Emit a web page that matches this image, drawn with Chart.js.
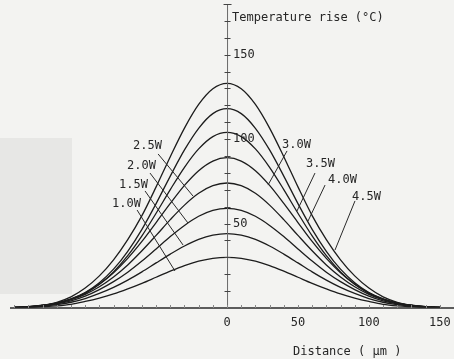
<!DOCTYPE html>
<html><head><meta charset="utf-8">
<script src="https://cdn.jsdelivr.net/npm/chart.js@4.4.1/dist/chart.umd.min.js"></script>
<style>html,body{margin:0;padding:0;background:#f3f3f1}#wrap{width:454px;height:359px;position:relative}</style>
</head><body><div id="wrap"><canvas id="c" width="454" height="359"></canvas></div>
<script>
// Distance (µm)
const distances = [-150,-140,-130,-120,-110,-100,-90,-80,-70,-60,-50,-40,-30,-20,-10,0,10,20,30,40,50,60,70,80,90,100,110,120,130,140,150];
// Temperature rise (°C) per laser power
const p10 = [0.2,0.4,0.8,1.3,2.2,3.9,5.9,8.3,11.3,14.6,18.2,21.8,25.1,27.7,29.4,30,29.4,27.7,25.1,21.8,18.2,14.6,11.3,8.3,5.9,3.9,2.2,1.3,0.8,0.4,0.2];
const p15 = [0.3,0.6,1.1,2.0,3.4,5.6,8.6,12.2,16.5,21.4,26.7,31.9,36.7,40.6,43.1,44,43.1,40.6,36.7,31.9,26.7,21.4,16.5,12.2,8.6,5.6,3.4,2.0,1.1,0.6,0.3];
const p20 = [0.3,0.7,1.3,2.4,4.2,7.0,10.9,15.6,21.2,27.8,35.0,42.3,48.9,54.3,57.8,59,57.8,54.3,48.9,42.3,35.0,27.8,21.2,15.6,10.9,7.0,4.2,2.4,1.3,0.7,0.3];
const p25 = [0.4,0.8,1.5,2.7,4.9,8.1,12.6,18.4,25.5,33.9,43.0,52.3,60.9,67.9,72.4,74,72.4,67.9,60.9,52.3,43.0,33.9,25.5,18.4,12.6,8.1,4.9,2.7,1.5,0.8,0.4];
const p30 = [0.4,0.8,1.6,3.0,5.4,9.0,14.1,20.9,29.4,39.4,50.6,61.9,72.6,81.3,87.0,89,87.0,81.3,72.6,61.9,50.6,39.4,29.4,20.9,14.1,9.0,5.4,3.0,1.6,0.8,0.4];
const p35 = [0.3,0.7,1.5,2.8,5.1,8.7,14.0,21.4,31.0,42.7,56.1,70.1,83.3,94.2,101.5,104,101.5,94.2,83.3,70.1,56.1,42.7,31.0,21.4,14.0,8.7,5.1,2.8,1.5,0.7,0.3];
const p40 = [0.3,0.7,1.5,2.9,5.3,9.2,15.0,23.0,33.6,46.6,61.8,78.1,93.6,106.4,115.1,118,115.1,106.4,93.6,78.1,61.8,46.6,33.6,23.0,15.0,9.2,5.3,2.9,1.5,0.7,0.3];
const p45 = [0.3,0.8,1.7,3.4,6.6,11.8,19.0,28.5,40.5,54.7,71.7,89.6,106.5,120.5,129.8,133,129.8,120.5,106.5,89.6,71.7,54.7,40.5,28.5,19.0,11.8,6.6,3.4,1.7,0.8,0.3];
const seriesNames = ['1.0W','1.5W','2.0W','2.5W','3.0W','3.5W','4.0W','4.5W'];
const seriesValues = [p10,p15,p20,p25,p30,p35,p40,p45];
const xTickLabels = [0,50,100,150];
const yTickLabels = [50,100,150];

// label anchors (data units) and leader lines for each curve label
const curveLabels = [
  {t:'1.0W', x:-81.1, y:61.6, lx1:-63.4, ly1:58.0, lx2:-36.7, ly2:21.9},
  {t:'1.5W', x:-76.1, y:72.8, lx1:-57.8, ly1:69.3, lx2:-31.0, ly2:37.3},
  {t:'2.0W', x:-70.5, y:84.1, lx1:-54.3, ly1:79.9, lx2:-27.5, ly2:50.3},
  {t:'2.5W', x:-66.3, y:95.9, lx1:-48.6, ly1:91.2, lx2:-24.0, ly2:66.3},
  {t:'3.0W', x:38.8, y:96.5, lx1:42.3, ly1:93.0, lx2:28.9, ly2:72.8},
  {t:'3.5W', x:55.7, y:85.3, lx1:62.0, ly1:79.9, lx2:49.3, ly2:57.4},
  {t:'4.0W', x:71.2, y:75.8, lx1:69.1, ly1:72.8, lx2:57.1, ly2:51.5},
  {t:'4.5W', x:88.1, y:65.7, lx1:90.2, ly1:63.4, lx2:76.1, ly2:34.3}
];

const FONT = '12px "DejaVu Sans Mono", "Liberation Mono", monospace';
const INK = '#262626';

const decor = {
  id:'decor',
  beforeDraw(chart){
    const ctx = chart.ctx;
    ctx.save();
    ctx.fillStyle = '#f3f3f1';
    ctx.fillRect(0,0,chart.width,chart.height);
    ctx.fillStyle = '#e7e7e5';
    ctx.fillRect(0,138,72,156);
    ctx.restore();
  },
  afterDatasetsDraw(chart){
    const ctx = chart.ctx, xs = chart.scales.x, ys = chart.scales.y;
    const x0 = xs.getPixelForValue(0), y0 = ys.getPixelForValue(0);
    ctx.save();
    // y axis
    ctx.strokeStyle = '#6a6a6a'; ctx.lineWidth = 1;
    ctx.beginPath(); ctx.moveTo(x0+0.5, y0); ctx.lineTo(x0+0.5, ys.getPixelForValue(180)); ctx.stroke();
    ctx.strokeStyle = '#444';
    for(let v=10; v<=180; v+=10){
      const py = Math.round(ys.getPixelForValue(v))+0.5;
      const w = (v===180)?4:3;
      ctx.beginPath(); ctx.moveTo(x0-w+0.5, py); ctx.lineTo(x0+w+0.5, py); ctx.stroke();
    }
    // x axis
    ctx.strokeStyle = '#2a2a2a'; ctx.lineWidth = 1.5;
    ctx.beginPath(); ctx.moveTo(xs.left, y0); ctx.lineTo(xs.right, y0); ctx.stroke();
    ctx.strokeStyle = '#888'; ctx.lineWidth = 1;
    for(let v=-150; v<=150; v+=10){
      const px = Math.round(xs.getPixelForValue(v))+0.5;
      ctx.beginPath(); ctx.moveTo(px, y0); ctx.lineTo(px, y0-3); ctx.stroke();
    }
    // text
    ctx.fillStyle = INK; ctx.font = FONT; ctx.textBaseline = 'middle';
    ctx.textAlign = 'left';
    yTickLabels.forEach(v=>{ ctx.fillText(String(v), x0+6, ys.getPixelForValue(v)); });
    ctx.fillText('Temperature rise (°C)', x0+5, ys.getPixelForValue(171.5));
    ctx.textAlign = 'center';
    xTickLabels.forEach(v=>{ ctx.fillText(String(v), xs.getPixelForValue(v), y0+15); });
    ctx.textAlign = 'left';
    ctx.fillText('Distance ( μm )', xs.getPixelForValue(46.5), y0+44);
    // curve labels + leaders
    ctx.strokeStyle = '#2a2a2a'; ctx.lineWidth = 1;
    curveLabels.forEach(c=>{
      ctx.fillText(c.t, xs.getPixelForValue(c.x), ys.getPixelForValue(c.y));
      ctx.beginPath();
      ctx.moveTo(xs.getPixelForValue(c.lx1), ys.getPixelForValue(c.ly1));
      ctx.lineTo(xs.getPixelForValue(c.lx2), ys.getPixelForValue(c.ly2));
      ctx.stroke();
    });
    ctx.restore();
  }
};

new Chart(document.getElementById('c'), {
  type:'line',
  data:{
    datasets: seriesValues.map((vals,i)=>({
      label: seriesNames[i],
      data: distances.map((d,j)=>({x:d, y:vals[j]})),
      borderColor:'#1c1c1c', borderWidth:1.3, pointRadius:0,
      cubicInterpolationMode:'monotone', fill:false
    }))
  },
  options:{
    responsive:false, animation:false, devicePixelRatio:1,
    layout:{padding:{left:10, right:0, top:4, bottom:51}},
    plugins:{legend:{display:false}, tooltip:{enabled:false}},
    scales:{
      x:{type:'linear', min:-153, max:160, display:false},
      y:{type:'linear', min:0, max:180, display:false}
    }
  },
  plugins:[decor]
});
</script></body></html>
